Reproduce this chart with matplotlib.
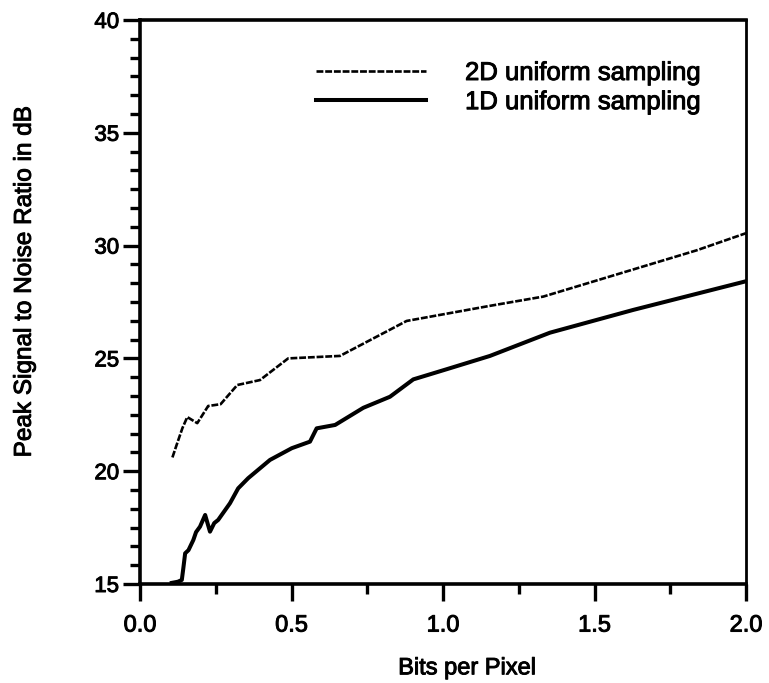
import numpy as np
import matplotlib
matplotlib.use("Agg")
import matplotlib.pyplot as plt
import matplotlib.patheffects as pe
from matplotlib.ticker import FixedLocator, MultipleLocator, FormatStrFormatter

plt.rcParams['font.family'] = ['Liberation Sans', 'DejaVu Sans']

#### data
bpp_2d = [0.107, 0.121, 0.140, 0.156, 0.189, 0.225, 0.266, 0.321, 0.396,
          0.489, 0.660, 0.880, 1.155, 1.331, 1.837, 2.0]
psnr_2d = [20.61, 21.17, 21.91, 22.40, 22.13, 22.89, 22.97, 23.82, 24.04,
           25.00, 25.11, 26.66, 27.33, 27.74, 29.79, 30.55]

bpp_1d = [0.105, 0.125, 0.138, 0.143, 0.149, 0.160, 0.176, 0.185, 0.198,
          0.215, 0.231, 0.245, 0.258, 0.297, 0.324, 0.357, 0.429, 0.501,
          0.561, 0.583, 0.644, 0.737, 0.825, 0.902, 1.012, 1.155, 1.353,
          1.628, 2.0]
psnr_1d = [15.05, 15.10, 15.18, 15.70, 16.36, 16.50, 16.95, 17.30, 17.54,
           18.06, 17.32, 17.70, 17.84, 18.58, 19.24, 19.69, 20.50, 21.02,
           21.31, 21.90, 22.05, 22.81, 23.30, 24.07, 24.52, 25.11, 26.14,
           27.15, 28.42]

labels = ["2D uniform sampling", "1D uniform sampling"]

W, H = 769, 683
fig = plt.figure(figsize=(W / 100, H / 100), dpi=100)
ax = fig.add_axes([140 / W, 1 - 584 / H, (746 - 140) / W, (584 - 20) / H])

ax.plot(bpp_2d, psnr_2d, color='black', lw=1.9, ls=(0, (2.6, 0.7)),
        label=labels[0])
ax.plot(bpp_1d, psnr_1d, color='black', lw=2.9, label=labels[1],
        solid_joinstyle='round')

ax.set_xlim(0, 2.0)
ax.set_ylim(15, 40)

# axis ticks
ax.xaxis.set_major_locator(MultipleLocator(0.5))
ax.xaxis.set_minor_locator(MultipleLocator(0.25))
ax.yaxis.set_major_locator(MultipleLocator(5))
ax.yaxis.set_minor_locator(FixedLocator(np.arange(15, 40.01, 5 / 6)))
ax.xaxis.set_major_formatter(FormatStrFormatter('%.1f'))

ax.tick_params(which='major', direction='out', length=12, width=2.4)
ax.tick_params(which='minor', direction='out', length=7, width=2.4)
ax.tick_params(axis='x', which='major', labelsize=17, pad=10)
ax.tick_params(axis='y', which='major', labelsize=16, pad=3)

for side in ['left', 'bottom', 'top']:
    ax.spines[side].set_linewidth(2.6)
ax.spines['right'].set_linewidth(2.0)

ax.set_xlabel("Bits per Pixel", fontsize=17)
ax.xaxis.set_label_coords(0.54, -0.13)
ax.set_ylabel("Peak Signal to Noise Ratio in dB", fontsize=17.5)
ax.yaxis.set_label_coords(-0.172, 0.535)

leg = ax.legend(frameon=False, fontsize=18.5, loc='upper left',
                bbox_to_anchor=(316 / W, 1 - 61 / H), bbox_transform=fig.transFigure,
                handlelength=4.3, handletextpad=1.5, labelspacing=0.2,
                borderpad=0, borderaxespad=0)

# scanned print look: slightly heavier text
heavy = [pe.withStroke(linewidth=0.7, foreground='black')]
texts = ax.get_xticklabels() + ax.get_yticklabels() + leg.get_texts()
texts += [ax.xaxis.label, ax.yaxis.label]
for t in texts:
    t.set_path_effects(heavy)

fig.savefig("out.png", dpi=100)
